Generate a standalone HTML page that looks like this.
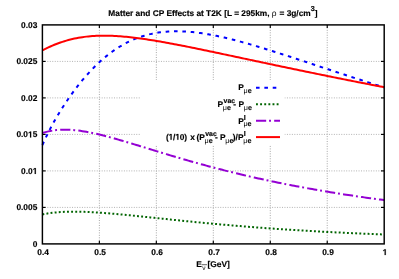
<!DOCTYPE html>
<html><head><meta charset="utf-8"><style>
html,body{margin:0;padding:0;background:#fff;}
svg{display:block;will-change:transform;}
text{font-family:"Liberation Sans",sans-serif;font-weight:bold;font-size:8.4px;text-rendering:geometricPrecision;fill:#000;stroke:#000;stroke-width:0.15px;}
.gv{stroke:#a6a6a6;stroke-width:1;stroke-dasharray:1 1.47;}
.gh{stroke:#b2b2b2;stroke-width:1;stroke-dasharray:1 1.47;}
.one{fill:#000;stroke:#000;stroke-width:37;}
.sym{font-weight:normal;stroke:none;}
</style></head><body>
<svg width="399" height="279" viewBox="0 0 399 279">
<rect width="399" height="279" fill="#fff"/>
<g fill="none"><line class="gv" x1="99.37" y1="24.90" x2="99.37" y2="243.90"/><line class="gv" x1="156.33" y1="24.90" x2="156.33" y2="243.90"/><line class="gv" x1="213.30" y1="24.90" x2="213.30" y2="243.90"/><line class="gv" x1="270.27" y1="24.90" x2="270.27" y2="243.90"/><line class="gv" x1="327.23" y1="24.90" x2="327.23" y2="243.90"/><line class="gh" x1="42.40" y1="207.40" x2="384.20" y2="207.40"/><line class="gh" x1="42.40" y1="170.90" x2="384.20" y2="170.90"/><line class="gh" x1="42.40" y1="134.40" x2="384.20" y2="134.40"/><line class="gh" x1="42.40" y1="97.90" x2="384.20" y2="97.90"/><line class="gh" x1="42.40" y1="61.40" x2="384.20" y2="61.40"/></g>
<rect x="141" y="80" width="143.5" height="65" fill="#fff"/>
<g stroke="#000" stroke-width="1.15" fill="none"><line x1="99.37" y1="243.90" x2="99.37" y2="240.70"/><line x1="99.37" y1="24.90" x2="99.37" y2="28.10"/><line x1="156.33" y1="243.90" x2="156.33" y2="240.70"/><line x1="156.33" y1="24.90" x2="156.33" y2="28.10"/><line x1="213.30" y1="243.90" x2="213.30" y2="240.70"/><line x1="213.30" y1="24.90" x2="213.30" y2="28.10"/><line x1="270.27" y1="243.90" x2="270.27" y2="240.70"/><line x1="270.27" y1="24.90" x2="270.27" y2="28.10"/><line x1="327.23" y1="243.90" x2="327.23" y2="240.70"/><line x1="327.23" y1="24.90" x2="327.23" y2="28.10"/><line x1="42.40" y1="207.40" x2="45.60" y2="207.40"/><line x1="384.20" y1="207.40" x2="381.00" y2="207.40"/><line x1="42.40" y1="170.90" x2="45.60" y2="170.90"/><line x1="384.20" y1="170.90" x2="381.00" y2="170.90"/><line x1="42.40" y1="134.40" x2="45.60" y2="134.40"/><line x1="384.20" y1="134.40" x2="381.00" y2="134.40"/><line x1="42.40" y1="97.90" x2="45.60" y2="97.90"/><line x1="384.20" y1="97.90" x2="381.00" y2="97.90"/><line x1="42.40" y1="61.40" x2="45.60" y2="61.40"/><line x1="384.20" y1="61.40" x2="381.00" y2="61.40"/></g>
<g fill="none" stroke-width="2" stroke-linejoin="round">
<path d="M42.40 145.02 L44.40 140.58 L46.40 136.34 L48.40 132.30 L50.40 128.41 L52.39 124.68 L54.39 121.08 L56.39 117.59 L58.39 114.21 L60.39 110.94 L62.39 107.75 L64.39 104.66 L66.39 101.65 L68.38 98.71 L70.38 95.86 L72.38 93.07 L74.38 90.36 L76.38 87.72 L78.38 85.15 L80.38 82.65 L82.38 80.22 L84.38 77.85 L86.37 75.55 L88.37 73.31 L90.37 71.15 L92.37 69.04 L94.37 67.01 L96.37 65.04 L98.37 63.13 L100.37 61.29 L102.36 59.51 L104.36 57.79 L106.36 56.14 L108.36 54.55 L110.36 53.02 L112.36 51.55 L114.36 50.14 L116.36 48.79 L118.36 47.51 L120.35 46.27 L122.35 45.10 L124.35 43.98 L126.35 42.92 L128.35 41.91 L130.35 40.95 L132.35 40.05 L134.35 39.20 L136.35 38.40 L138.34 37.65 L140.34 36.94 L142.34 36.29 L144.34 35.67 L146.34 35.11 L148.34 34.59 L150.34 34.11 L152.34 33.67 L154.33 33.27 L156.33 32.92 L158.33 32.60 L160.33 32.31 L162.33 32.07 L164.33 31.86 L166.33 31.69 L168.33 31.54 L170.33 31.43 L172.32 31.36 L174.32 31.31 L176.32 31.29 L178.32 31.30 L180.32 31.34 L182.32 31.41 L184.32 31.50 L186.32 31.61 L188.31 31.75 L190.31 31.92 L192.31 32.11 L194.31 32.31 L196.31 32.54 L198.31 32.79 L200.31 33.06 L202.31 33.35 L204.31 33.66 L206.30 33.98 L208.30 34.33 L210.30 34.68 L212.30 35.06 L214.30 35.44 L216.30 35.85 L218.30 36.26 L220.30 36.69 L222.29 37.14 L224.29 37.59 L226.29 38.06 L228.29 38.54 L230.29 39.02 L232.29 39.52 L234.29 40.03 L236.29 40.55 L238.29 41.08 L240.28 41.61 L242.28 42.15 L244.28 42.71 L246.28 43.27 L248.28 43.83 L250.28 44.40 L252.28 44.98 L254.28 45.57 L256.27 46.16 L258.27 46.75 L260.27 47.36 L262.27 47.96 L264.27 48.57 L266.27 49.19 L268.27 49.81 L270.27 50.43 L272.27 51.06 L274.26 51.69 L276.26 52.32 L278.26 52.96 L280.26 53.59 L282.26 54.24 L284.26 54.88 L286.26 55.52 L288.26 56.17 L290.25 56.82 L292.25 57.47 L294.25 58.12 L296.25 58.78 L298.25 59.43 L300.25 60.09 L302.25 60.75 L304.25 61.40 L306.25 62.06 L308.24 62.72 L310.24 63.38 L312.24 64.04 L314.24 64.70 L316.24 65.36 L318.24 66.02 L320.24 66.68 L322.24 67.34 L324.24 68.00 L326.23 68.66 L328.23 69.32 L330.23 69.98 L332.23 70.64 L334.23 71.30 L336.23 71.95 L338.23 72.61 L340.23 73.26 L342.22 73.92 L344.22 74.57 L346.22 75.23 L348.22 75.88 L350.22 76.53 L352.22 77.18 L354.22 77.83 L356.22 78.48 L358.22 79.12 L360.21 79.77 L362.21 80.41 L364.21 81.06 L366.21 81.70 L368.21 82.34 L370.21 82.98 L372.21 83.62 L374.21 84.25 L376.20 84.89 L378.20 85.52 L380.20 86.15 L382.20 86.79 L384.20 87.41" stroke="#0000ff" stroke-dasharray="3.6 4.76"/>
<path d="M42.40 214.40 L44.40 214.01 L46.40 213.65 L48.40 213.33 L50.40 213.05 L52.39 212.80 L54.39 212.57 L56.39 212.38 L58.39 212.21 L60.39 212.07 L62.39 211.95 L64.39 211.85 L66.39 211.78 L68.38 211.72 L70.38 211.69 L72.38 211.67 L74.38 211.66 L76.38 211.68 L78.38 211.70 L80.38 211.74 L82.38 211.80 L84.38 211.86 L86.37 211.94 L88.37 212.02 L90.37 212.12 L92.37 212.22 L94.37 212.34 L96.37 212.46 L98.37 212.59 L100.37 212.73 L102.36 212.87 L104.36 213.02 L106.36 213.18 L108.36 213.34 L110.36 213.51 L112.36 213.68 L114.36 213.85 L116.36 214.03 L118.36 214.21 L120.35 214.40 L122.35 214.59 L124.35 214.78 L126.35 214.97 L128.35 215.17 L130.35 215.37 L132.35 215.57 L134.35 215.77 L136.35 215.97 L138.34 216.18 L140.34 216.38 L142.34 216.59 L144.34 216.80 L146.34 217.00 L148.34 217.21 L150.34 217.42 L152.34 217.63 L154.33 217.84 L156.33 218.05 L158.33 218.26 L160.33 218.47 L162.33 218.68 L164.33 218.89 L166.33 219.10 L168.33 219.31 L170.33 219.52 L172.32 219.72 L174.32 219.93 L176.32 220.13 L178.32 220.34 L180.32 220.54 L182.32 220.75 L184.32 220.95 L186.32 221.15 L188.31 221.35 L190.31 221.55 L192.31 221.75 L194.31 221.95 L196.31 222.14 L198.31 222.34 L200.31 222.53 L202.31 222.72 L204.31 222.91 L206.30 223.10 L208.30 223.29 L210.30 223.48 L212.30 223.66 L214.30 223.85 L216.30 224.03 L218.30 224.21 L220.30 224.39 L222.29 224.57 L224.29 224.75 L226.29 224.92 L228.29 225.10 L230.29 225.27 L232.29 225.44 L234.29 225.61 L236.29 225.78 L238.29 225.95 L240.28 226.11 L242.28 226.28 L244.28 226.44 L246.28 226.60 L248.28 226.76 L250.28 226.92 L252.28 227.07 L254.28 227.23 L256.27 227.38 L258.27 227.53 L260.27 227.69 L262.27 227.83 L264.27 227.98 L266.27 228.13 L268.27 228.27 L270.27 228.42 L272.27 228.56 L274.26 228.70 L276.26 228.84 L278.26 228.98 L280.26 229.11 L282.26 229.25 L284.26 229.38 L286.26 229.52 L288.26 229.65 L290.25 229.78 L292.25 229.90 L294.25 230.03 L296.25 230.16 L298.25 230.28 L300.25 230.40 L302.25 230.53 L304.25 230.65 L306.25 230.76 L308.24 230.88 L310.24 231.00 L312.24 231.11 L314.24 231.23 L316.24 231.34 L318.24 231.45 L320.24 231.56 L322.24 231.67 L324.24 231.78 L326.23 231.89 L328.23 231.99 L330.23 232.10 L332.23 232.20 L334.23 232.30 L336.23 232.40 L338.23 232.50 L340.23 232.60 L342.22 232.70 L344.22 232.79 L346.22 232.89 L348.22 232.98 L350.22 233.08 L352.22 233.17 L354.22 233.26 L356.22 233.35 L358.22 233.44 L360.21 233.53 L362.21 233.61 L364.21 233.70 L366.21 233.78 L368.21 233.87 L370.21 233.95 L372.21 234.03 L374.21 234.11 L376.20 234.19 L378.20 234.27 L380.20 234.35 L382.20 234.43 L384.20 234.50" stroke="#006400" stroke-dasharray="1.9 2.23"/>
<path d="M42.40 133.05 L44.40 132.42 L46.40 131.85 L48.40 131.36 L50.40 130.94 L52.39 130.59 L54.39 130.29 L56.39 130.06 L58.39 129.88 L60.39 129.75 L62.39 129.68 L64.39 129.65 L66.39 129.67 L68.38 129.73 L70.38 129.82 L72.38 129.96 L74.38 130.13 L76.38 130.34 L78.38 130.57 L80.38 130.84 L82.38 131.14 L84.38 131.46 L86.37 131.80 L88.37 132.17 L90.37 132.56 L92.37 132.97 L94.37 133.40 L96.37 133.84 L98.37 134.30 L100.37 134.78 L102.36 135.27 L104.36 135.78 L106.36 136.29 L108.36 136.82 L110.36 137.36 L112.36 137.91 L114.36 138.46 L116.36 139.03 L118.36 139.60 L120.35 140.18 L122.35 140.76 L124.35 141.35 L126.35 141.94 L128.35 142.54 L130.35 143.14 L132.35 143.74 L134.35 144.35 L136.35 144.96 L138.34 145.57 L140.34 146.18 L142.34 146.80 L144.34 147.41 L146.34 148.03 L148.34 148.64 L150.34 149.26 L152.34 149.87 L154.33 150.48 L156.33 151.10 L158.33 151.71 L160.33 152.32 L162.33 152.93 L164.33 153.53 L166.33 154.14 L168.33 154.74 L170.33 155.34 L172.32 155.94 L174.32 156.53 L176.32 157.13 L178.32 157.72 L180.32 158.30 L182.32 158.89 L184.32 159.47 L186.32 160.05 L188.31 160.62 L190.31 161.19 L192.31 161.76 L194.31 162.32 L196.31 162.88 L198.31 163.44 L200.31 164.00 L202.31 164.55 L204.31 165.09 L206.30 165.63 L208.30 166.17 L210.30 166.71 L212.30 167.24 L214.30 167.77 L216.30 168.29 L218.30 168.81 L220.30 169.33 L222.29 169.84 L224.29 170.35 L226.29 170.85 L228.29 171.35 L230.29 171.85 L232.29 172.34 L234.29 172.83 L236.29 173.32 L238.29 173.80 L240.28 174.28 L242.28 174.75 L244.28 175.22 L246.28 175.69 L248.28 176.15 L250.28 176.61 L252.28 177.07 L254.28 177.52 L256.27 177.96 L258.27 178.41 L260.27 178.85 L262.27 179.29 L264.27 179.72 L266.27 180.15 L268.27 180.58 L270.27 181.00 L272.27 181.42 L274.26 181.83 L276.26 182.25 L278.26 182.65 L280.26 183.06 L282.26 183.46 L284.26 183.86 L286.26 184.26 L288.26 184.65 L290.25 185.04 L292.25 185.42 L294.25 185.80 L296.25 186.18 L298.25 186.56 L300.25 186.93 L302.25 187.30 L304.25 187.67 L306.25 188.03 L308.24 188.39 L310.24 188.75 L312.24 189.10 L314.24 189.46 L316.24 189.80 L318.24 190.15 L320.24 190.49 L322.24 190.83 L324.24 191.17 L326.23 191.51 L328.23 191.84 L330.23 192.17 L332.23 192.49 L334.23 192.82 L336.23 193.14 L338.23 193.46 L340.23 193.77 L342.22 194.09 L344.22 194.40 L346.22 194.70 L348.22 195.01 L350.22 195.31 L352.22 195.61 L354.22 195.91 L356.22 196.21 L358.22 196.50 L360.21 196.79 L362.21 197.08 L364.21 197.37 L366.21 197.65 L368.21 197.94 L370.21 198.22 L372.21 198.49 L374.21 198.77 L376.20 199.04 L378.20 199.31 L380.20 199.58 L382.20 199.85 L384.20 200.11" stroke="#9400d3" stroke-dasharray="10.17 2.9 1.9 3.2"/>
<path d="M42.40 50.30 L44.40 49.30 L46.40 48.33 L48.40 47.38 L50.40 46.48 L52.39 45.61 L54.39 44.77 L56.39 43.98 L58.39 43.22 L60.39 42.50 L62.39 41.83 L64.39 41.19 L66.39 40.59 L68.38 40.03 L70.38 39.51 L72.38 39.03 L74.38 38.58 L76.38 38.17 L78.38 37.79 L80.38 37.45 L82.38 37.14 L84.38 36.87 L86.37 36.62 L88.37 36.41 L90.37 36.22 L92.37 36.07 L94.37 35.94 L96.37 35.84 L98.37 35.76 L100.37 35.71 L102.36 35.68 L104.36 35.67 L106.36 35.68 L108.36 35.72 L110.36 35.77 L112.36 35.85 L114.36 35.94 L116.36 36.05 L118.36 36.18 L120.35 36.32 L122.35 36.48 L124.35 36.65 L126.35 36.84 L128.35 37.04 L130.35 37.25 L132.35 37.47 L134.35 37.71 L136.35 37.96 L138.34 38.21 L140.34 38.48 L142.34 38.76 L144.34 39.04 L146.34 39.34 L148.34 39.64 L150.34 39.95 L152.34 40.27 L154.33 40.59 L156.33 40.92 L158.33 41.26 L160.33 41.61 L162.33 41.95 L164.33 42.31 L166.33 42.67 L168.33 43.03 L170.33 43.40 L172.32 43.77 L174.32 44.15 L176.32 44.53 L178.32 44.92 L180.32 45.30 L182.32 45.70 L184.32 46.09 L186.32 46.49 L188.31 46.88 L190.31 47.29 L192.31 47.69 L194.31 48.10 L196.31 48.50 L198.31 48.91 L200.31 49.32 L202.31 49.74 L204.31 50.15 L206.30 50.57 L208.30 50.98 L210.30 51.40 L212.30 51.82 L214.30 52.24 L216.30 52.66 L218.30 53.09 L220.30 53.51 L222.29 53.93 L224.29 54.36 L226.29 54.78 L228.29 55.20 L230.29 55.63 L232.29 56.05 L234.29 56.48 L236.29 56.91 L238.29 57.33 L240.28 57.76 L242.28 58.18 L244.28 58.61 L246.28 59.04 L248.28 59.46 L250.28 59.89 L252.28 60.31 L254.28 60.74 L256.27 61.16 L258.27 61.59 L260.27 62.01 L262.27 62.44 L264.27 62.86 L266.27 63.28 L268.27 63.71 L270.27 64.13 L272.27 64.55 L274.26 64.97 L276.26 65.40 L278.26 65.82 L280.26 66.24 L282.26 66.66 L284.26 67.08 L286.26 67.50 L288.26 67.91 L290.25 68.33 L292.25 68.75 L294.25 69.17 L296.25 69.58 L298.25 70.00 L300.25 70.41 L302.25 70.83 L304.25 71.24 L306.25 71.65 L308.24 72.07 L310.24 72.48 L312.24 72.89 L314.24 73.30 L316.24 73.71 L318.24 74.12 L320.24 74.53 L322.24 74.94 L324.24 75.34 L326.23 75.75 L328.23 76.15 L330.23 76.56 L332.23 76.96 L334.23 77.37 L336.23 77.77 L338.23 78.17 L340.23 78.57 L342.22 78.98 L344.22 79.38 L346.22 79.77 L348.22 80.17 L350.22 80.57 L352.22 80.97 L354.22 81.37 L356.22 81.76 L358.22 82.16 L360.21 82.55 L362.21 82.95 L364.21 83.34 L366.21 83.73 L368.21 84.12 L370.21 84.51 L372.21 84.90 L374.21 85.29 L376.20 85.68 L378.20 86.07 L380.20 86.46 L382.20 86.84 L384.20 87.23" stroke="#ff0000"/>
</g>
<rect x="42.4" y="24.9" width="341.80" height="219.00" fill="none" stroke="#000" stroke-width="1.45"/>
<g><text x="37.36" y="255.10">0.4</text><text x="94.33" y="255.10">0.5</text><text x="151.29" y="255.10">0.6</text><text x="208.26" y="255.10">0.7</text><text x="265.23" y="255.10">0.8</text><text x="322.19" y="255.10">0.9</text><path class="one" d="M478 0L478 1170L140 959L140 1180L493 1409L759 1409L759 0Z" transform="translate(382.66 255.10) scale(0.00410 -0.00410)"/><text x="32.73" y="246.90">0</text><text x="16.38" y="210.40">0.005</text><text x="21.05" y="173.90">0.0</text><path class="one" d="M478 0L478 1170L140 959L140 1180L493 1409L759 1409L759 0Z" transform="translate(32.73 173.90) scale(0.00410 -0.00410)"/><text x="16.38" y="137.40">0.0</text><path class="one" d="M478 0L478 1170L140 959L140 1180L493 1409L759 1409L759 0Z" transform="translate(28.06 137.40) scale(0.00410 -0.00410)"/><text x="32.73" y="137.40">5</text><text x="21.05" y="100.90">0.02</text><text x="16.38" y="64.40">0.025</text><text x="21.05" y="27.90">0.03</text></g>
<text id="title" x="212.9" y="16" text-anchor="middle" style="font-size:8.32px">Matter and CP Effects at T2K [L = 295km, <tspan class="sym">ρ</tspan><tspan dx="0.6"> = 3g/cm</tspan><tspan dy="-5.1" font-size="7.2">3</tspan><tspan dy="5.1">]</tspan></text>
<text x="196.24" y="266.5">E</text><text x="207.55" y="266.5">[GeV]</text><text x="202.3" y="269.7" class="sym" style="font-size:6.6px">ν</text><line x1="201.6" y1="264.7" x2="207" y2="264.7" stroke="#222" stroke-width="0.7"/>
<!-- legend -->
<g fill="none" stroke-width="2">
<line x1="256" y1="87.8" x2="280" y2="87.8" stroke="#0000ff" stroke-dasharray="3.6 4.76"/>
<line x1="256" y1="104.2" x2="280" y2="104.2" stroke="#006400" stroke-dasharray="1.9 2.23"/>
<line x1="256" y1="120.7" x2="280" y2="120.7" stroke="#9400d3" stroke-dasharray="10.17 2.9 1.9 3.2"/>
<line x1="256" y1="137.1" x2="280" y2="137.1" stroke="#ff0000"/>
</g>
<text x="238.19" y="90.30" style="font-size:8.40px">P</text><text x="243.51" y="92.90" style="font-size:7.20px"><tspan class="sym">μ</tspan>e</text><text x="217.54" y="106.70" style="font-size:8.40px">P</text><text x="223.57" y="103.20" style="font-size:6.90px">vac</text><text x="222.86" y="109.60" style="font-size:7.20px"><tspan class="sym">μ</tspan>e</text><text x="233.37" y="106.70" style="font-size:8.40px">-</text><text x="238.44" y="106.70" style="font-size:8.40px">P</text><text x="243.76" y="109.60" style="font-size:7.20px"><tspan class="sym">μ</tspan>e</text><text x="238.14" y="123.60" style="font-size:8.40px">P</text><text x="243.82" y="120.10" style="font-size:7.20px">I</text><text x="243.46" y="126.20" style="font-size:7.20px"><tspan class="sym">μ</tspan>e</text><text x="165.88" y="139.70" letter-spacing="-0.128">(</text><path class="one" d="M478 0L478 1170L140 959L140 1180L493 1409L759 1409L759 0Z" transform="translate(168.55 139.70) scale(0.00410 -0.00410)"/><text x="173.09" y="139.70" letter-spacing="-0.128">/</text><path class="one" d="M478 0L478 1170L140 959L140 1180L493 1409L759 1409L759 0Z" transform="translate(175.30 139.70) scale(0.00410 -0.00410)"/><text x="179.84" y="139.70" letter-spacing="-0.128">0)</text><text x="190.14" y="139.70" style="font-size:8.40px">x</text><text x="196.38" y="139.70" style="font-size:8.40px">(</text><text x="199.24" y="139.70" style="font-size:8.40px">P</text><text x="205.27" y="136.20" style="font-size:6.90px">vac</text><text x="204.56" y="142.70" style="font-size:7.20px"><tspan class="sym">μ</tspan>e</text><text x="215.07" y="139.70" style="font-size:8.40px">-</text><text x="220.04" y="139.70" style="font-size:8.40px">P</text><text x="225.36" y="142.70" style="font-size:7.20px"><tspan class="sym">μ</tspan>e</text><text x="232.79" y="139.70" style="font-size:8.40px">)/</text><text x="238.04" y="139.70" style="font-size:8.40px">P</text><text x="243.72" y="136.20" style="font-size:7.20px">I</text><text x="243.36" y="142.70" style="font-size:7.20px"><tspan class="sym">μ</tspan>e</text>
</svg>
</body></html>
